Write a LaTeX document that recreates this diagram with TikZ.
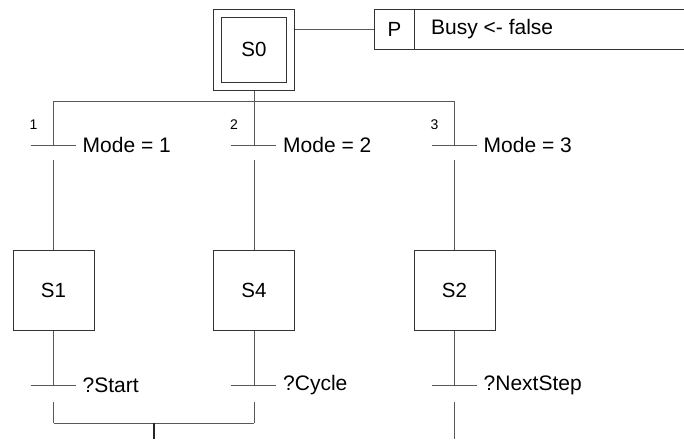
\documentclass[tikz,border=0pt]{standalone}
\usepackage{fontspec}
\setmainfont{Liberation Sans}
\begin{document}
\begin{tikzpicture}[x=1pt,y=-1pt,
  boxline/.style={draw=black!80, line width=1pt},
  stepbox/.style={boxline, minimum width=81pt, minimum height=80pt, inner sep=0pt,
    font=\fontsize{20.5}{24}\selectfont},
  link/.style={draw=black!65, line width=1pt},
  bar/.style={draw=black!65, line width=1pt},
  cond/.style={anchor=west, inner sep=0pt, font=\fontsize{21}{25}\selectfont},
  num/.style={inner sep=0pt, font=\fontsize{14}{16}\selectfont}]
\useasboundingbox (0,0) rectangle (684,439);

% initial step (double frame) and its action
\node[stepbox, minimum width=65pt, minimum height=65pt] (S0) at (254,49.5) {S0};
\node[boxline, minimum width=81pt, minimum height=81pt, inner sep=0pt] (S0frame) at (S0.center) {};
\node[boxline, minimum width=40pt, minimum height=40pt, inner sep=0pt, anchor=north west,
  font=\fontsize{20.5}{24}\selectfont] (P) at (374,9) {P};
% action field runs to the right margin: only its top and bottom edges show
\node[minimum width=270pt, minimum height=40pt, inner sep=0pt, anchor=west] (act) at (P.east) {};
\draw[boxline] (act.north west) -- (act.north east);
\draw[boxline] (act.south west) -- (act.south east);
\node[cond] (acttext) at (431,29) {Busy <- false};
\draw[link] (S0frame.east |- P.west) -- (P.west);

% steps
\node[stepbox] (S1) at (53.5,290) {S1};
\node[stepbox] (S4) at (254,290) {S4};
\node[stepbox] (S2) at (454.5,290) {S2};

% divergence
\coordinate (div) at (254,101);
\coordinate (dL) at (53.5,101);
\coordinate (dR) at (454.5,101);
\draw[link] (S0frame.south) -- (div);
\draw[link] (dL) -- (dR);

% upper transitions
\coordinate (t1) at (53.5,145);
\coordinate (t2) at (254,145);
\coordinate (t3) at (454.5,145);
\foreach \t/\s/\n in {t1/S1/1, t2/S4/2, t3/S2/3}{
  \draw[link] (\t |- dL) -- (\t);
  \draw[bar] ([xshift=-23pt]\t) -- ([xshift=22pt]\t);
  \draw[link] ([yshift=-15pt]\t) -- (\s.north);
  \node[cond] at ([xshift=29pt]\t) {Mode = \n};
  \node[num] at ([xshift=-20pt,yshift=20pt]\t) {\n};
}

% lower transitions
\coordinate (b1) at (53.5,385);
\coordinate (b2) at (254,385);
\coordinate (b3) at (454.5,385);
\foreach \t/\s/\c in {b1/S1/?Start, b2/S4/?Cycle, b3/S2/?NextStep}{
  \draw[link] (\s.south) -- (\t);
  \draw[bar] ([xshift=-23pt]\t) -- ([xshift=22pt]\t);
  \node[cond] at ([xshift=29pt]\t) {\c};
}

% convergence
\coordinate (cL) at (53.5,423);
\coordinate (cR) at (254,423);
\coordinate (cM) at (154,423);
\coordinate (out) at (154,439);
\coordinate (out3) at (454.5,439);
\draw[link] ([yshift=-17pt]b1) -- (cL);
\draw[link] ([yshift=-17pt]b2) -- (cR);
\draw[link] (cL) -- (cR);
\draw[draw=black!85, line width=2pt] (cM) -- (out);
\draw[link] ([yshift=-17pt]b3) -- (out3);
\end{tikzpicture}
\end{document}
